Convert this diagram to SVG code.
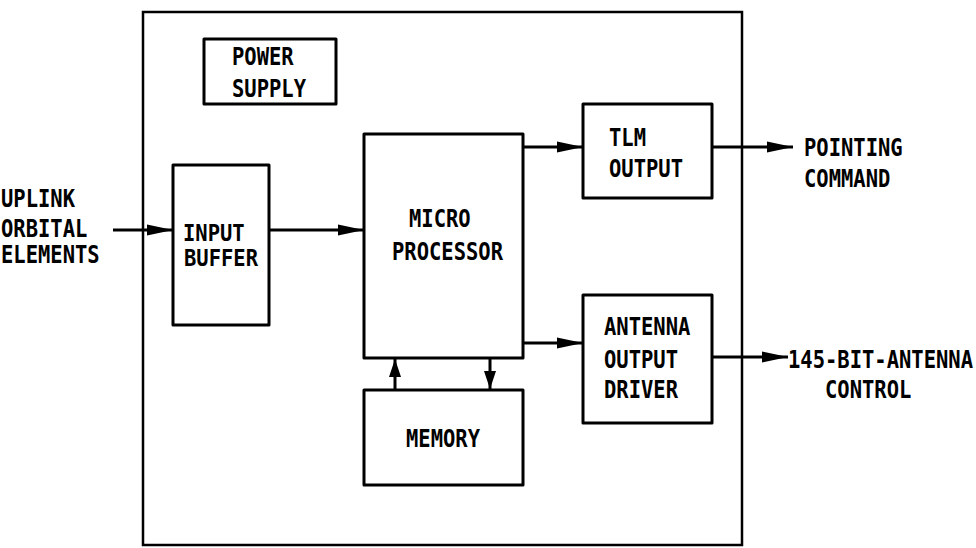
<svg xmlns="http://www.w3.org/2000/svg" width="976" height="548" viewBox="0 0 976 548">
<style>
.box{fill:none;stroke:#000;stroke-width:3;stroke-linejoin:round}
.outer{fill:none;stroke:#000;stroke-width:2.5}
.wire{fill:none;stroke:#000;stroke-width:3}
.t{font-family:"DejaVu Sans Mono","Liberation Mono",monospace;font-size:20.5px;font-weight:bold;fill:#000}
</style>
<defs>
<marker id="ah" viewBox="0 0 26 14" refX="26" refY="7" markerWidth="26" markerHeight="14" markerUnits="userSpaceOnUse" orient="auto">
<path d="M0,1.5 L26,7 L0,12.5 z" fill="#000"/>
</marker>
<marker id="ahs" viewBox="0 0 18 14" refX="18" refY="7" markerWidth="18" markerHeight="14" markerUnits="userSpaceOnUse" orient="auto">
<path d="M0,1 L18,7 L0,13 z" fill="#000"/>
</marker>
</defs>
<rect width="976" height="548" fill="#fff"/>
<g id="enclosure"><rect class="outer" x="143" y="12" width="599" height="533"/></g>
<g id="power-supply">
<rect class="box" x="204" y="39" width="132" height="65"/>
<text class="t" transform="translate(232,65) scale(1,1.18)">POWER</text>
<text class="t" transform="translate(232,97) scale(1,1.18)">SUPPLY</text>
</g>
<g id="input-buffer">
<rect class="box" x="173" y="165" width="96" height="160"/>
<text class="t" transform="translate(183,241) scale(1,1.1)">INPUT</text>
<text class="t" transform="translate(184,266) scale(1,1.1)">BUFFER</text>
</g>
<g id="microprocessor">
<rect class="box" x="364" y="134" width="159" height="224"/>
<text class="t" transform="translate(409,227) scale(1,1.18)">MICRO</text>
<text class="t" transform="translate(392,260) scale(1,1.18)">PROCESSOR</text>
</g>
<g id="memory">
<rect class="box" x="364" y="390" width="159" height="95"/>
<text class="t" transform="translate(406,447) scale(1,1.18)">MEMORY</text>
</g>
<g id="tlm-output">
<rect class="box" x="583" y="104" width="129" height="94"/>
<text class="t" transform="translate(609,146) scale(1,1.18)">TLM</text>
<text class="t" transform="translate(609,177) scale(1,1.18)">OUTPUT</text>
</g>
<g id="antenna-output-driver">
<rect class="box" x="583" y="295" width="129" height="128"/>
<text class="t" transform="translate(604,335) scale(1,1.18)">ANTENNA</text>
<text class="t" transform="translate(604,368) scale(1,1.18)">OUTPUT</text>
<text class="t" transform="translate(604,398) scale(1,1.18)">DRIVER</text>
</g>
<g id="uplink-label">
<text class="t" transform="translate(1,207) scale(1,1.18)">UPLINK</text>
<text class="t" transform="translate(1,237) scale(1,1.18)">ORBITAL</text>
<text class="t" transform="translate(1,263) scale(1,1.18)">ELEMENTS</text>
</g>
<g id="pointing-label">
<text class="t" transform="translate(804,156) scale(1,1.18)">POINTING</text>
<text class="t" transform="translate(804,187) scale(1,1.18)">COMMAND</text>
</g>
<g id="antenna-control-label">
<text class="t" transform="translate(788,368) scale(1,1.18)">145-BIT-ANTENNA</text>
<text class="t" transform="translate(825,398) scale(1,1.18)">CONTROL</text>
</g>
<g id="connectors">
<line class="wire" x1="113" y1="230" x2="173" y2="230" marker-end="url(#ah)"/>
<line class="wire" x1="269" y1="230" x2="364" y2="230" marker-end="url(#ah)"/>
<line class="wire" x1="523" y1="147" x2="583" y2="147" marker-end="url(#ah)"/>
<line class="wire" x1="712" y1="147" x2="793" y2="147" marker-end="url(#ah)"/>
<line class="wire" x1="523" y1="343" x2="583" y2="343" marker-end="url(#ah)"/>
<line class="wire" x1="712" y1="357" x2="788" y2="357" marker-end="url(#ah)"/>
<line class="wire" x1="395" y1="390" x2="395" y2="359" marker-end="url(#ahs)"/>
<line class="wire" x1="490" y1="358" x2="490" y2="389" marker-end="url(#ahs)"/>
</g>
</svg>
